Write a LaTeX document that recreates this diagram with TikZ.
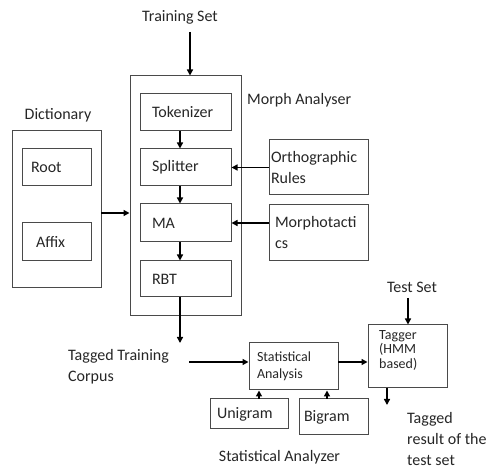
\documentclass[tikz,border=0pt]{standalone}
\usepackage{fontspec}
\setmainfont{Carlito}
\usetikzlibrary{arrows.meta}
\definecolor{boxgray}{HTML}{4A4A4A}
\definecolor{txt}{HTML}{262626}
\begin{document}
\begin{tikzpicture}[x=1pt,y=-1pt,
 box/.style={draw=boxgray, line width=1pt, rectangle, inner ysep=0pt, align=left, text=txt,
   font=\fontsize{16}{21}\selectfont},
 smallbox/.style={box, font=\fontsize{14}{17}\selectfont},
 lbl/.style={font=\fontsize{16}{21}\selectfont, text=txt, inner sep=0pt, align=left},
 arr/.style={-{Triangle[length=6pt,width=6pt]}, line width=1.6pt, black},
]
\useasboundingbox (0,0) rectangle (491,468);

% Morph analyser
\node[box, minimum width=111, minimum height=240] (morph) at (185.5,196) {};
\node[box, minimum height=37, text width=67, inner xsep=12] (tok) at (185.5,112.5) {Tokenizer};
\node[box, minimum height=37, text width=67, inner xsep=12] (split) at (185.5,167.5) {Splitter};
\node[box, minimum height=38, text width=67, inner xsep=12] (ma) at (185.5,223) {MA};
\node[box, minimum height=36, text width=67, inner xsep=12] (rbt) at (185.5,279) {RBT};
\node[lbl, anchor=west] (morphlbl) at (247,100) {Morph Analyser};

% Dictionary
\node[box, minimum width=89, minimum height=157] (dict) at (56.5,209.5) {};
\node[box, minimum height=37, text width=51, inner xsep=9] (root) at (56.5,167.5) {Root};
\node[box, minimum height=38, text width=41, inner xsep=14] (affix) at (56.5,242) {Affix};
\node[lbl] (dictlbl) at (58,115) {Dictionary};

% Rules
\node[box, minimum height=55, text width=95, inner xsep=2] (ortho) at (318.5,167.5) {Orthographic\\Rules};
\node[box, minimum height=56, text width=87, inner xsep=6] (morpho) at (318.5,233) {Morphotacti\\cs};

% Training set
\node[lbl] (trainset) at (180,17) {Training Set};
\coordinate (tsstart) at (190,32);
\draw[arr] (tsstart) -- (tsstart |- morph.north);

% internal arrows
\draw[arr] ([xshift=-5.5pt]tok.south) -- ([xshift=-5.5pt]split.north);
\draw[arr] ([xshift=-5.5pt]split.south) -- ([xshift=-5.5pt]ma.north);
\draw[arr] ([xshift=-5.5pt]ma.south) -- ([xshift=-5.5pt]rbt.north);
\coordinate (rbtend) at (180,343);
\draw[arr] ([xshift=-5.5pt]rbt.south) -- (rbtend);

\coordinate (dictout) at (101,213);
\draw[arr] (dictout) -- (dictout -| morph.west);
\draw[arr] (ortho.west) -- (ortho.west -| split.east);
\draw[arr] (ma.east -| morpho.west) -- (ma.east);

% Statistical analyzer
\node[lbl, anchor=west] (corpus) at (68,366.5) {Tagged Training\\Corpus};
\node[smallbox, minimum height=47, text width=73, inner xsep=8] (stat) at (293.5,366.5) {Statistical\\Analysis};
\node[box, minimum height=30, text width=64, inner xsep=7] (uni) at (249,414) {Unigram};
\node[box, minimum height=36, text width=59, inner xsep=5] (bi) at (333.5,417) {Bigram};
\node[lbl] (statlbl) at (279.5,457) {Statistical Analyzer};

\coordinate (cstart) at (189,362);
\draw[arr] (cstart) -- (cstart -| stat.west);
\coordinate (unix) at (259,399);
\draw[arr] (unix) -- (unix |- stat.south);
\coordinate (bix) at (327,399);
\draw[arr] (bix) -- (bix |- stat.south);

% Tagger
\node[box, minimum width=79, minimum height=63] (tagger) at (407.5,356.5) {};
\node[anchor=north west, inner sep=0pt, align=left, text=txt, font=\fontsize{14}{14.5}\selectfont] (taggertxt) at (379,330) {Tagger\\(HMM\\based)};
\coordinate (sout) at (338,362);
\draw[arr] (sout) -- (sout -| tagger.west);
\node[lbl] (testset) at (412,287) {Test Set};
\coordinate (tsin) at (408,298);
\draw[arr] (tsin) -- (tsin |- tagger.north);
\coordinate (tagout) at (387,388);
\coordinate (tagend) at (387,405);
\draw[arr] (tagout) -- (tagend);
\node[lbl, anchor=west] (result) at (407,439) {Tagged\\result of the\\test set};
\end{tikzpicture}
\end{document}
